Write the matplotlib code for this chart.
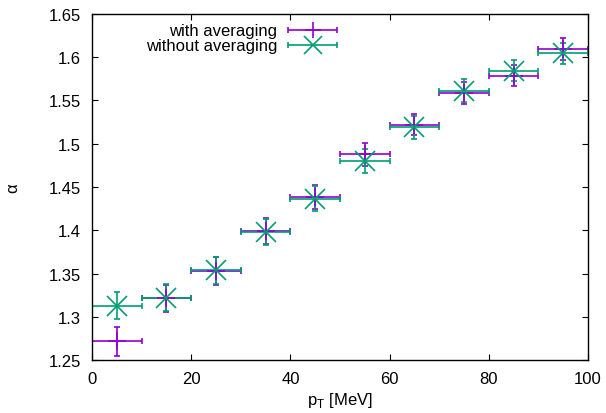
import matplotlib
matplotlib.use('Agg')
import matplotlib.pyplot as plt
from matplotlib.legend_handler import HandlerErrorbar
import numpy as np

plt.rcParams['font.family'] = ['Liberation Sans', 'DejaVu Sans']
plt.rcParams['font.size'] = 12

# pT bins (centres and half-widths)
pt = [5, 15, 25, 35, 45, 55, 65, 75, 85, 95]
pt_err = [5, 5, 5, 5, 5, 5, 5, 5, 5, 5]

# alpha with averaging
alpha_avg = [1.2716, 1.3212, 1.3530, 1.3990, 1.4388, 1.4878, 1.5220, 1.5583, 1.5787, 1.6095]
alpha_avg_err = [0.0168, 0.0160, 0.0160, 0.0148, 0.0140, 0.0130, 0.0124, 0.0127, 0.0125, 0.0125]

# alpha without averaging
alpha_noavg = [1.3128, 1.3222, 1.3535, 1.3983, 1.4365, 1.4804, 1.5190, 1.5613, 1.5845, 1.6046]
alpha_noavg_err = [0.0158, 0.0160, 0.0160, 0.0148, 0.0145, 0.0140, 0.0130, 0.0130, 0.0125, 0.0124]

purple = '#9400d3'
green = '#009e73'

fig = plt.figure(figsize=(6.06, 4.14), dpi=100)
ax = fig.add_axes([0.1518, 0.128, 0.8185, 0.8358])

ax.errorbar(pt, alpha_avg, xerr=pt_err, yerr=alpha_avg_err, fmt='+', color=purple,
            ms=13, mew=1.2, elinewidth=1.2, capsize=2.2, capthick=1.2)
ax.errorbar(pt, alpha_noavg, xerr=pt_err, yerr=alpha_noavg_err, fmt='x', color=green,
            ms=14, mew=1.2, elinewidth=1.2, capsize=2.2, capthick=1.2)

# legend proxies: horizontal bar + marker only, like gnuplot's key
h1 = ax.errorbar([np.nan], [np.nan], xerr=[1], fmt='+', color=purple, ms=12, mew=1.2,
                 elinewidth=1.2, capsize=2.2, capthick=1.2)
h2 = ax.errorbar([np.nan], [np.nan], xerr=[1], fmt='x', color=green, ms=13, mew=1.2,
                 elinewidth=1.2, capsize=2.2, capthick=1.2)
ax.legend([h1, h2], ['with averaging', 'without averaging'], loc='upper right',
          bbox_to_anchor=(0.507, 0.992), frameon=False, markerfirst=False,
          handlelength=2.9, handletextpad=0.66, labelspacing=0.0, borderaxespad=0,
          handler_map={h1: HandlerErrorbar(xerr_size=1.45),
                       h2: HandlerErrorbar(xerr_size=1.45)})

ax.set_xlim(0, 100)
ax.set_ylim(1.25, 1.65)
ax.set_xticks(np.arange(0, 101, 20))
ax.set_yticks(np.arange(1.25, 1.651, 0.05))
ax.set_yticklabels(['1.25', '1.3', '1.35', '1.4', '1.45', '1.5', '1.55', '1.6', '1.65'])
ax.tick_params(direction='in', top=True, right=True, length=4, width=0.8, pad=8)
for s in ax.spines.values():
    s.set_linewidth(1.0)

ax.set_xlabel(r'p$_\mathregular{T}$ [MeV]', labelpad=3)
ax.set_ylabel('α', labelpad=20)

fig.savefig('out.png', dpi=100)
